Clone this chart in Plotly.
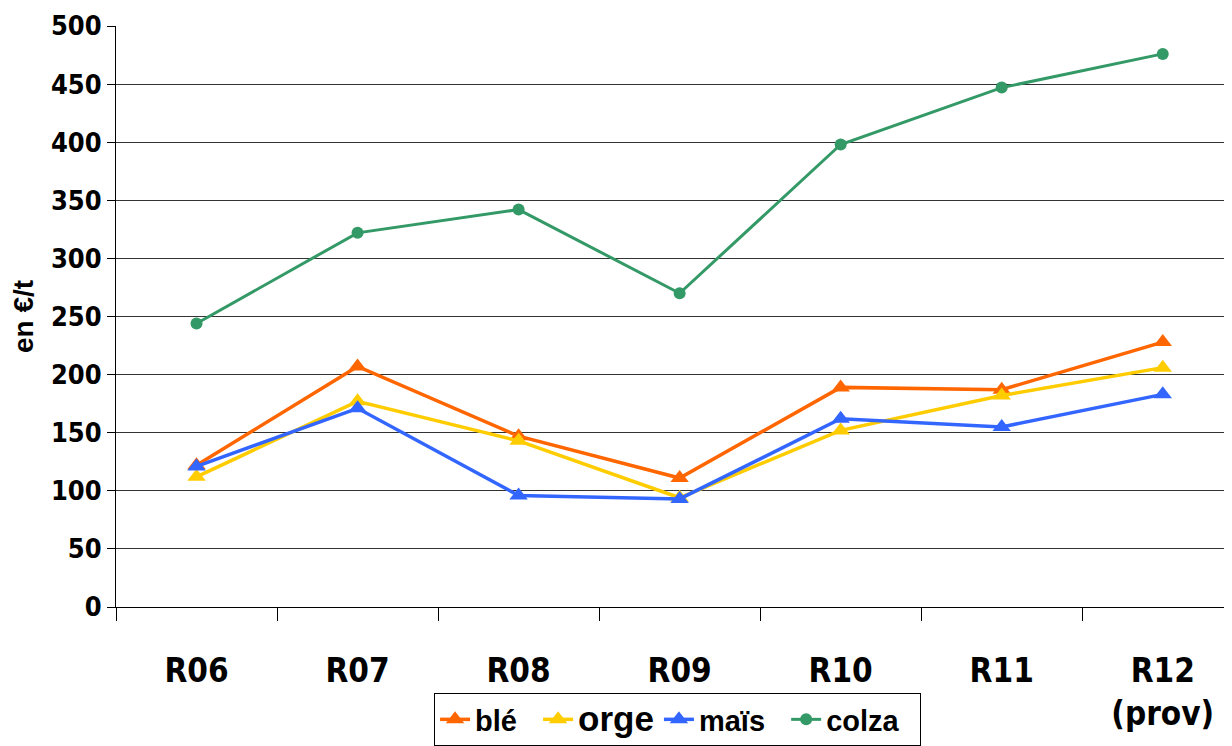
import plotly.graph_objects as go

categories = ["R06", "R07", "R08", "R09", "R10", "R11", "R12<br>(prov)"]
ble = [122, 207, 147, 111, 189, 187, 228]
orge = [112, 177, 143, 94, 152, 182, 206]
mais = [121, 171, 96, 93, 162, 155, 183]
colza = [244, 322, 342, 270, 398, 447, 476]
y_ticks = [0, 50, 100, 150, 200, 250, 300, 350, 400, 450, 500]

FONT = "Liberation Sans, Arial, sans-serif"
NARROW = "DejaVu Sans Condensed, Liberation Sans, sans-serif"
NB = "\u00a0"

fig = go.Figure()
series = [
    ("blé", ble, "#FF6600", "triangle-up", 16, 3.5, None, 2),
    ("orge", orge, "#FFCC00", "triangle-up", 16, 3.5, 35, 0),
    ("maïs", mais, "#3366FF", "triangle-up", 16, 3.5, None, 2),
    ("colza", colza, "#339966", "circle", 12, 3, None, 2),
]
for name, vals, color, sym, ms, lw, fs, pad in series:
    label = name + NB * pad
    if fs is not None:
        label = f'<span style="font-size:{fs}px">{label}</span>'
    fig.add_trace(go.Scatter(
        x=categories, y=vals, name=label, mode="lines+markers",
        line=dict(color=color, width=lw),
        marker=dict(symbol=sym, size=ms, color=color),
    ))

fig.update_layout(
    width=1224, height=738,
    margin=dict(l=108, r=0, t=18, b=137),
    paper_bgcolor="white", plot_bgcolor="white",
    font=dict(family=FONT, color="black", weight="bold"),
    showlegend=True,
    legend=dict(
        orientation="h", x=0.285, xanchor="left", y=-0.149, yanchor="top",
        bordercolor="black", borderwidth=1, bgcolor="white",
        font=dict(family=FONT, size=29, color="black", weight="bold"),
        itemwidth=30,
    ),
)
fig.update_xaxes(
    type="category", range=[-0.5, 6.43], automargin=False,
    showgrid=False, showline=True, linecolor="black", linewidth=1,
    ticks="outside", tickson="boundaries", ticklen=13, tickcolor="black",
    tickfont=dict(family=NARROW, size=33, color="black", weight="bold"),
    ticklabelstandoff=34,
)
fig.update_yaxes(
    range=[0, 500], tickvals=y_ticks, automargin=False,
    showgrid=True, gridcolor="#333333", gridwidth=1,
    showline=True, linecolor="black", linewidth=1,
    ticks="outside", ticklen=8, tickcolor="black",
    tickfont=dict(family=NARROW, size=27, color="black", weight="bold"),
    title=dict(text="en €/t", font=dict(family=FONT, size=28, color="black", weight="bold"), standoff=12),
    zeroline=False,
)

fig.write_html("out.html")
